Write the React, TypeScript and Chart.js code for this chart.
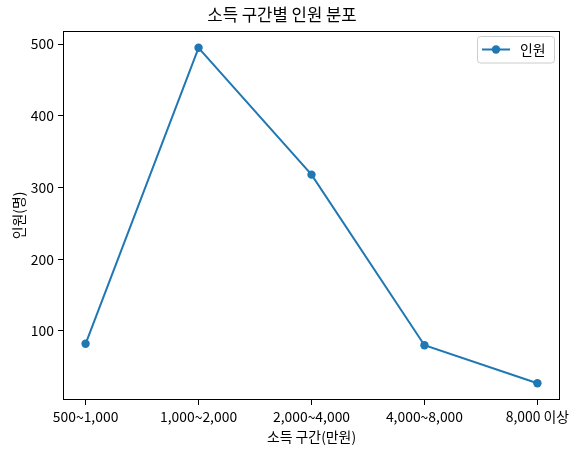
import React, { useEffect, useRef } from "react";
import { Chart, registerables } from "chart.js";

Chart.register(...registerables);

const categories = ["500~1,000", "1,000~2,000", "2,000~4,000", "4,000~8,000", "8,000 이상"];
const counts = [82, 495, 318, 80, 27];
const yTickValues = [100, 200, 300, 400, 500];
const titleText = "소득 구간별 인원 분포";
const xLabel = "소득 구간(만원)";
const yLabel = "인원(명)";
const seriesName = "인원";

const FONT = "'Noto Sans CJK KR', 'Noto Sans', sans-serif";
const BLUE = "#1f77b4";

export default function App() {
  const ref = useRef<HTMLCanvasElement | null>(null);

  useEffect(() => {
    if (!ref.current) return;
    const lo = Math.min(...counts);
    const hi = Math.max(...counts);
    const m = (hi - lo) * 0.05;

    const decor = {
      id: "decor",
      afterDraw(chart: any) {
        const ctx = chart.ctx;
        const a = chart.chartArea;
        ctx.save();
        // frame
        ctx.strokeStyle = "#000";
        ctx.lineWidth = 1;
        ctx.strokeRect(Math.round(a.left) + 0.5, Math.round(a.top) + 0.5, Math.round(a.right - a.left) - 1, Math.round(a.bottom - a.top) - 1);
        // title
        ctx.fillStyle = "#000";
        ctx.font = `16.7px ${FONT}`;
        ctx.textAlign = "center";
        ctx.textBaseline = "middle";
        ctx.fillText(titleText, 282, 15);
        // legend
        const bx = 477.5, by = 36.5, bw = 77, bh = 26.5;
        ctx.beginPath();
        ctx.roundRect(bx, by, bw, bh, 3);
        ctx.fillStyle = "rgba(255,255,255,0.8)";
        ctx.fill();
        ctx.strokeStyle = "#cccccc";
        ctx.stroke();
        const ly = 49.5;
        ctx.beginPath();
        ctx.moveTo(482, ly);
        ctx.lineTo(510, ly);
        ctx.strokeStyle = BLUE;
        ctx.lineWidth = 2;
        ctx.stroke();
        ctx.beginPath();
        ctx.arc(496, ly, 4.2, 0, Math.PI * 2);
        ctx.fillStyle = BLUE;
        ctx.fill();
        ctx.fillStyle = "#000";
        ctx.font = `13.9px ${FONT}`;
        ctx.textAlign = "left";
        ctx.fillText(seriesName, 520, ly);
        ctx.restore();
      },
    };

    const chart = new Chart(ref.current, {
      type: "line",
      data: {
        datasets: [
          {
            label: seriesName,
            data: counts.map((v, i) => ({ x: i, y: v })),
            borderColor: BLUE,
            backgroundColor: BLUE,
            borderWidth: 2,
            pointRadius: 4.2,
            pointHoverRadius: 4.2,
            pointBorderWidth: 0,
            tension: 0,
          },
        ],
      },
      options: {
        animation: false,
        responsive: false,
        devicePixelRatio: 1,
        layout: { padding: { top: 31, right: 18, left: 0, bottom: 0 } },
        plugins: {
          legend: { display: false },
          title: { display: false },
          tooltip: { enabled: false },
        },
        scales: {
          x: {
            type: "linear",
            min: -0.2,
            max: 4.2,
            afterBuildTicks: (s: any) => {
              s.ticks = categories.map((_, i) => ({ value: i }));
            },
            afterFit: (s: any) => {
              s.height = 55;
            },
            ticks: {
              autoSkip: false,
              maxRotation: 0,
              color: "#000",
              padding: 3,
              font: { family: FONT, size: 13.9 },
              callback: (v: any) => categories[v] ?? "",
            },
            grid: { display: true, drawOnChartArea: false, drawTicks: true, tickLength: 5, tickColor: "#000" },
            border: { display: false },
            title: {
              display: true,
              text: xLabel,
              color: "#000",
              font: { family: FONT, size: 13.9 },
              padding: { top: 0, bottom: 10 },
            },
          },
          y: {
            type: "linear",
            min: lo - m,
            max: hi + m,
            afterBuildTicks: (s: any) => {
              s.ticks = yTickValues.map((v) => ({ value: v }));
            },
            afterFit: (s: any) => {
              s.width = 63;
            },
            ticks: {
              color: "#000",
              padding: 4,
              font: { family: FONT, size: 13.9 },
            },
            grid: { display: true, drawOnChartArea: false, drawTicks: true, tickLength: 5, tickColor: "#000" },
            border: { display: false },
            title: {
              display: true,
              text: yLabel,
              color: "#000",
              font: { family: FONT, size: 13.9 },
              padding: { top: 10, bottom: 0 },
            },
          },
        },
      },
      plugins: [decor],
    });
    return () => chart.destroy();
  }, []);

  return (
    <div style={{ position: "fixed", left: 0, top: 0, width: 578, height: 455, background: "#fff" }}>
      <canvas ref={ref} width={578} height={455} />
    </div>
  );
}
